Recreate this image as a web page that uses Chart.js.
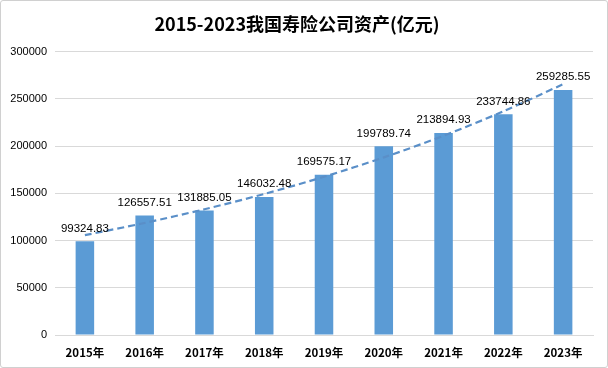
<!DOCTYPE html>
<html><head><meta charset="utf-8">
<script src="https://cdn.jsdelivr.net/npm/chart.js@4"></script>
<style>
html,body{margin:0;padding:0;background:#fff;}
#wrap{position:relative;width:606px;height:366px;border:1px solid #d0d0d0;border-radius:3px;}
</style></head><body>
<div id="wrap"><canvas id="c" width="606" height="366"></canvas></div>
<script>
const categories = ['2015年','2016年','2017年','2018年','2019年','2020年','2021年','2022年','2023年'];
const assets = [99324.83,126557.51,131885.05,146032.48,169575.17,199789.74,213894.93,233744.86,259285.55];
const assetLabels = ['99324.83','126557.51','131885.05','146032.48','169575.17','199789.74','213894.93','233744.86','259285.55'];
// trend line values
const trend = [105700,118600,133100,149300,167500,188000,210900,236700,265500];
const yTicks = [0,50000,100000,150000,200000,250000,300000];

const labelPlugin = {
  id:'barLabels',
  afterDatasetsDraw(chart){
    const ctx = chart.ctx;
    const meta = chart.getDatasetMeta(1);
    ctx.save();
    ctx.font = '11.5px "Liberation Sans", Arial, sans-serif';
    ctx.fillStyle = '#000';
    ctx.textAlign = 'center';
    ctx.textBaseline = 'bottom';
    meta.data.forEach((bar,i)=>{
      ctx.fillText(assetLabels[i], bar.x, bar.y - 7);
    });
    ctx.restore();
  }
};

new Chart(document.getElementById('c'), {
  data:{
    labels: categories,
    datasets:[
      {type:'line', data: trend, borderColor:'#5a8fc8', borderWidth:2.2, borderDash:[7,4],
       pointRadius:0, fill:false, tension:0.3, order:0},
      {type:'bar', data: assets, backgroundColor:'#5b9bd5', categoryPercentage:1, barPercentage:0.31, order:1}
    ]
  },
  options:{
    responsive:false, animation:false,
    layout:{padding:{left:0,right:14,top:0,bottom:0}},
    plugins:{
      legend:{display:false}, tooltip:{enabled:false},
      title:{display:true, text:'2015-2023我国寿险公司资产(亿元)', color:'#000',
        font:{family:'"Noto Sans CJK SC", sans-serif', size:18, weight:'bold'},
        padding:{top:12,bottom:17}}
    },
    scales:{
      x:{grid:{display:false}, border:{display:true,color:'#d9d9d9'},
        ticks:{color:'#000', font:{family:'"Noto Sans CJK SC", sans-serif', size:11.5, weight:'bold'}, padding:3},
        afterFit(s){ s.height = 32; }},
      y:{min:0,max:300000, grid:{color:'#d9d9d9', drawTicks:false}, border:{display:false},
        afterBuildTicks(s){ s.ticks = yTicks.map(v=>({value:v})); },
        ticks:{color:'#000', font:{family:'"Liberation Sans", Arial, sans-serif', size:11}, padding:8,
          callback:(v)=>String(v)},
        afterFit(s){ s.width = 54; }}
    }
  },
  plugins:[labelPlugin]
});
</script>
</body></html>
